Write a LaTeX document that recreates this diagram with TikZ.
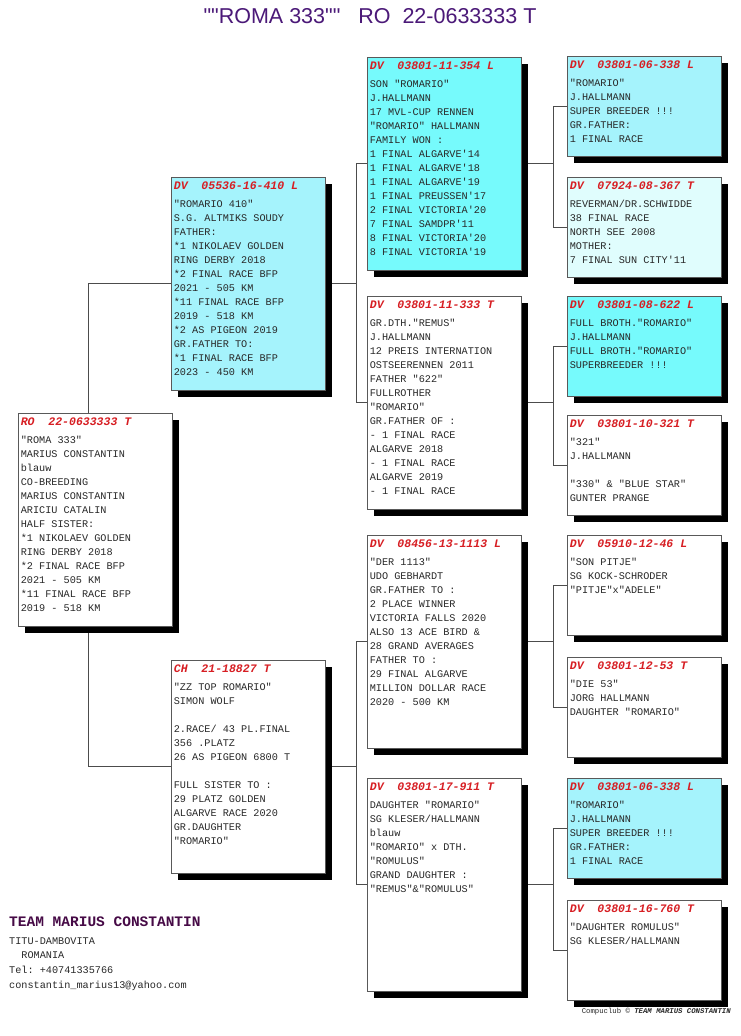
\documentclass[tikz,border=0pt]{standalone}
\usepackage{fontspec}
\setmonofont{Liberation Mono}
\newfontfamily\titlefont{Liberation Sans}[Ligatures=TeXOff]
\usetikzlibrary{shadows,backgrounds}
\definecolor{hdrred}{RGB}{215,30,35}
\definecolor{titlepurple}{RGB}{75,25,120}
\definecolor{teampurple}{RGB}{70,10,70}
\definecolor{bodygray}{RGB}{40,40,40}
\definecolor{cyanA}{RGB}{118,250,252}
\definecolor{cyanB}{RGB}{165,243,252}
\definecolor{cyanC}{RGB}{224,253,253}
\newcommand{\hdrfont}{\ttfamily\fontsize{11.5}{14}\selectfont\bfseries\itshape}
\newcommand{\bodyfont}{\ttfamily\fontsize{10.2}{14}\selectfont}
\newcommand{\card}[3]{\parbox[t][#1][t]{149pt}{\raggedright{\color{hdrred}\hdrfont #2\par}\vspace{4pt}{\color{bodygray}\bodyfont #3\par}}}
\tikzstyle{card} = [draw=black!65, line width=0.7pt, anchor=north west, inner xsep=2.5pt, inner ysep=4.5pt, fill=white, drop shadow={fill=black, opacity=1, shadow xshift=7pt, shadow yshift=-7pt}]
\tikzstyle{link} = [draw=black!70, line width=0.8pt]

\begin{document}
\begin{tikzpicture}[x=1pt, y=-1pt]
\useasboundingbox (0,0) rectangle (740,1036);

\node [font=\titlefont\fontsize{21.5}{24}\selectfont, text=titlepurple] (title) at (370,16) {""ROMA 333""~~~RO~~22-0633333 T};

% generation 1
\node [card] (root) at (18,413) {\card{204pt}{RO~~22-0633333 T}{"ROMA 333"\\MARIUS CONSTANTIN\\blauw\\CO-BREEDING\\MARIUS CONSTANTIN\\ARICIU CATALIN\\HALF SISTER:\\{*}1 NIKOLAEV GOLDEN\\RING DERBY 2018\\{*}2 FINAL RACE BFP\\2021 - 505 KM\\{*}11 FINAL RACE BFP\\2019 - 518 KM}};

% generation 2
\node [card, fill=cyanB] (sire) at (171,177) {\card{204pt}{DV~~05536-16-410 L}{"ROMARIO 410"\\S.G. ALTMIKS SOUDY\\FATHER:\\{*}1 NIKOLAEV GOLDEN\\RING DERBY 2018\\{*}2 FINAL RACE BFP\\2021 - 505 KM\\{*}11 FINAL RACE BFP\\2019 - 518 KM\\{*}2 AS PIGEON 2019\\GR.FATHER TO:\\{*}1 FINAL RACE BFP\\2023 - 450 KM}};
\node [card] (dam) at (171,660) {\card{204pt}{CH~~21-18827 T}{"ZZ TOP ROMARIO"\\SIMON WOLF\\[14pt]2.RACE/ 43 PL.FINAL\\356 .PLATZ\\26 AS PIGEON 6800 T\\[14pt]FULL SISTER TO :\\29 PLATZ GOLDEN\\ALGARVE RACE 2020\\GR.DAUGHTER\\"ROMARIO"}};

% generation 3
\node [card, fill=cyanA] (ss) at (367,57) {\card{204pt}{DV~~03801-11-354 L}{SON "ROMARIO"\\J.HALLMANN\\17 MVL-CUP RENNEN\\"ROMARIO" HALLMANN\\FAMILY WON :\\1 FINAL ALGARVE'14\\1 FINAL ALGARVE'18\\1 FINAL ALGARVE'19\\1 FINAL PREUSSEN'17\\2 FINAL VICTORIA'20\\7 FINAL SAMDPR'11\\8 FINAL VICTORIA'20\\8 FINAL VICTORIA'19}};
\node [card] (sd) at (367,296) {\card{204pt}{DV~~03801-11-333 T}{GR.DTH."REMUS"\\J.HALLMANN\\12 PREIS INTERNATION\\OSTSEERENNEN 2011\\FATHER "622"\\FULLROTHER\\"ROMARIO"\\GR.FATHER OF :\\- 1 FINAL RACE\\ALGARVE 2018\\- 1 FINAL RACE\\ALGARVE 2019\\- 1 FINAL RACE}};
\node [card] (ds) at (367,535) {\card{204pt}{DV~~08456-13-1113 L}{"DER 1113"\\UDO GEBHARDT\\GR.FATHER TO :\\2 PLACE WINNER\\VICTORIA FALLS 2020\\ALSO 13 ACE BIRD \&\\28 GRAND AVERAGES\\FATHER TO :\\29 FINAL ALGARVE\\MILLION DOLLAR RACE\\2020 - 500 KM}};
\node [card] (dd) at (367,778) {\card{204pt}{DV~~03801-17-911 T}{DAUGHTER "ROMARIO"\\SG KLESER/HALLMANN\\blauw\\"ROMARIO" x DTH.\\"ROMULUS"\\GRAND DAUGHTER :\\"REMUS"\&"ROMULUS"}};

% generation 4
\node [card, fill=cyanB] (sss) at (567,56) {\card{91pt}{DV~~03801-06-338 L}{"ROMARIO"\\J.HALLMANN\\SUPER BREEDER !!!\\GR.FATHER:\\1 FINAL RACE}};
\node [card, fill=cyanC] (ssd) at (567,177) {\card{91pt}{DV~~07924-08-367 T}{REVERMAN/DR.SCHWIDDE\\38 FINAL RACE\\NORTH SEE 2008\\MOTHER:\\7 FINAL SUN CITY'11}};
\node [card, fill=cyanA] (sds) at (567,296) {\card{91pt}{DV~~03801-08-622 L}{FULL BROTH."ROMARIO"\\J.HALLMANN\\FULL BROTH."ROMARIO"\\SUPERBREEDER !!!}};
\node [card] (sdd) at (567,415) {\card{91pt}{DV~~03801-10-321 T}{"321"\\J.HALLMANN\\[14pt]"330" \& "BLUE STAR"\\GUNTER PRANGE}};
\node [card] (dss) at (567,535) {\card{91pt}{DV~~05910-12-46 L}{"SON PITJE"\\SG KOCK-SCHRODER\\"PITJE"x"ADELE"}};
\node [card] (dsd) at (567,657) {\card{91pt}{DV~~03801-12-53 T}{"DIE 53"\\JORG HALLMANN\\DAUGHTER "ROMARIO"}};
\node [card, fill=cyanB] (dds) at (567,778) {\card{91pt}{DV~~03801-06-338 L}{"ROMARIO"\\J.HALLMANN\\SUPER BREEDER !!!\\GR.FATHER:\\1 FINAL RACE}};
\node [card] (ddd) at (567,900) {\card{91pt}{DV~~03801-16-760 T}{"DAUGHTER ROMULUS"\\SG KLESER/HALLMANN}};

% footer
\node [anchor=west, inner sep=0pt, text=teampurple, font=\ttfamily\bfseries\fontsize{14.5}{16}\selectfont] (team) at (9,922) {TEAM MARIUS CONSTANTIN};
\node [anchor=north west, inner sep=0pt, align=left, text=bodygray, font=\ttfamily\fontsize{10.2}{14.7}\selectfont] (address) at (9,937) {TITU-DAMBOVITA\\~~ROMANIA\\Tel: +40741335766\\constantin\_marius13@yahoo.com};
\node [anchor=east, inner sep=0pt, text=bodygray, font=\ttfamily\fontsize{7.3}{9}\selectfont] (credit) at (731,1012) {Compuclub \textcopyright{} \textit{\textbf{TEAM MARIUS CONSTANTIN}}};

\begin{scope}[on background layer]
\fill [white] (0,0) rectangle (740,1036);
\draw [link] ([xshift=-7pt]root.north) |- (sire.west);
\draw [link] ([xshift=-7pt]root.south) |- (dam.west);
\foreach \p/\a/\b/\d in {sire/ss/sd/31, dam/ds/dd/31, ss/sss/ssd/32, sd/sds/sdd/32, ds/dss/dsd/32, dd/dds/ddd/32} {
  \coordinate (j\p) at ([xshift=\d pt]\p.east);
  \draw [link] (\p.east) -- (j\p);
  \draw [link] (\a.west) -| (j\p) |- (\b.west);
}
\end{scope}

\end{tikzpicture}
\end{document}
